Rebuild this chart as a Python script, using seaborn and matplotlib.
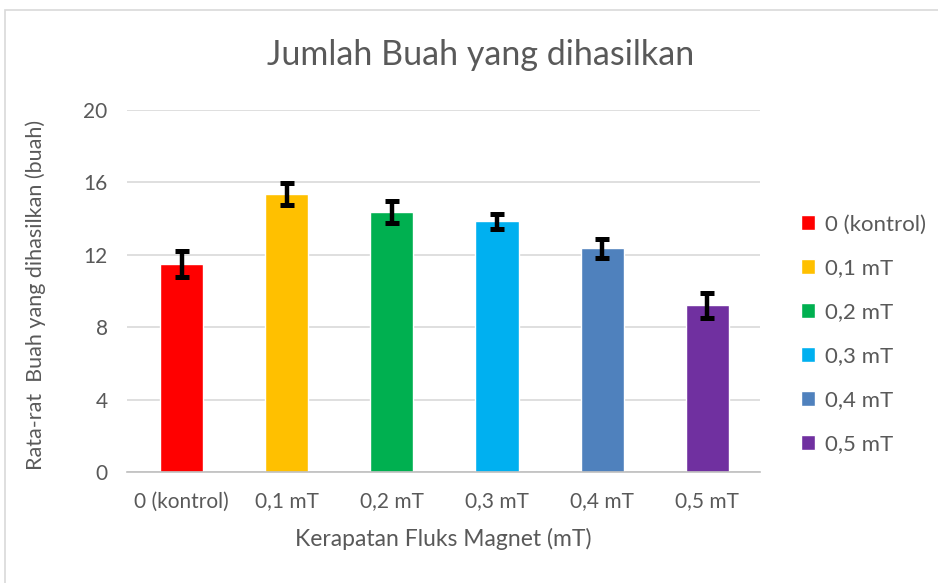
import matplotlib
matplotlib.use("Agg")
import matplotlib.pyplot as plt
import seaborn as sns
import pandas as pd
from matplotlib.patches import Rectangle

# --- data ---
categories = ["0 (kontrol)", "0,1 mT", "0,2 mT", "0,3 mT", "0,4 mT", "0,5 mT"]
mean_fruit = [11.5, 15.35, 14.35, 13.85, 12.35, 9.2]
err_fruit = [0.7, 0.6, 0.6, 0.4, 0.5, 0.7]
bar_colors = ["#FF0000", "#FFC000", "#00B050", "#00B0F0", "#4F81BD", "#7030A0"]
y_ticks = [0, 4, 8, 12, 16, 20]

df = pd.DataFrame({"kategori": categories, "rata": mean_fruit, "err": err_fruit})

sns.set_style("white")
plt.rcParams["font.family"] = ["Lato", "DejaVu Sans"]
text_grey = "#595959"

fig = plt.figure(figsize=(9.38, 5.83), dpi=100)
ax = fig.add_axes([0.1354, 0.1904, 0.6746, 0.6209])

sns.barplot(data=df, x="kategori", y="rata", hue="kategori",
            palette=bar_colors, dodge=False, width=0.41, ax=ax,
            legend=True, saturation=1)

ax.errorbar(range(len(categories)), df["rata"], yerr=df["err"], fmt="none",
            ecolor="black", elinewidth=3.2, capsize=4.8, capthick=3.6, zorder=5)

ax.set_ylim(0, 20)
ax.set_xlim(-0.52, 5.5)
ax.set_yticks(y_ticks)
ax.yaxis.grid(True, color="#D9D9D9", linewidth=1.2)
ax.set_axisbelow(True)
for s in ["top", "right", "left"]:
    ax.spines[s].set_visible(False)
ax.spines["bottom"].set_color("#BFBFBF")
ax.spines["bottom"].set_linewidth(1.2)
ax.tick_params(axis="both", length=0, labelsize=15, colors=text_grey)
ax.tick_params(axis="x", pad=14)
ax.tick_params(axis="y", pad=14)

ax.set_xlabel("Kerapatan Fluks Magnet (mT)", fontsize=16.5, color=text_grey, labelpad=12)
ax.set_ylabel("Rata-rat  Buah yang dihasilkan (buah)", fontsize=15.5, color=text_grey)
ax.yaxis.set_label_coords(-0.128, 0.49)
fig.text(0.512, 0.905, "Jumlah Buah yang dihasilkan", fontsize=24.5,
         color=text_grey, ha="center", va="center")

leg = ax.legend(loc="center left", bbox_to_anchor=(1.065, 0.38), frameon=False,
                fontsize=16, handlelength=0.65, handleheight=0.65,
                handletextpad=0.45, labelspacing=1.08, borderaxespad=0,
                borderpad=0)
for t in leg.get_texts():
    t.set_color(text_grey)

# light chart-area border
fig.patches.append(Rectangle((0.005, -0.01), 1.1, 0.992, transform=fig.transFigure,
                             fill=False, edgecolor="#D9D9D9", linewidth=1.2))

fig.savefig("out.png", dpi=100)
